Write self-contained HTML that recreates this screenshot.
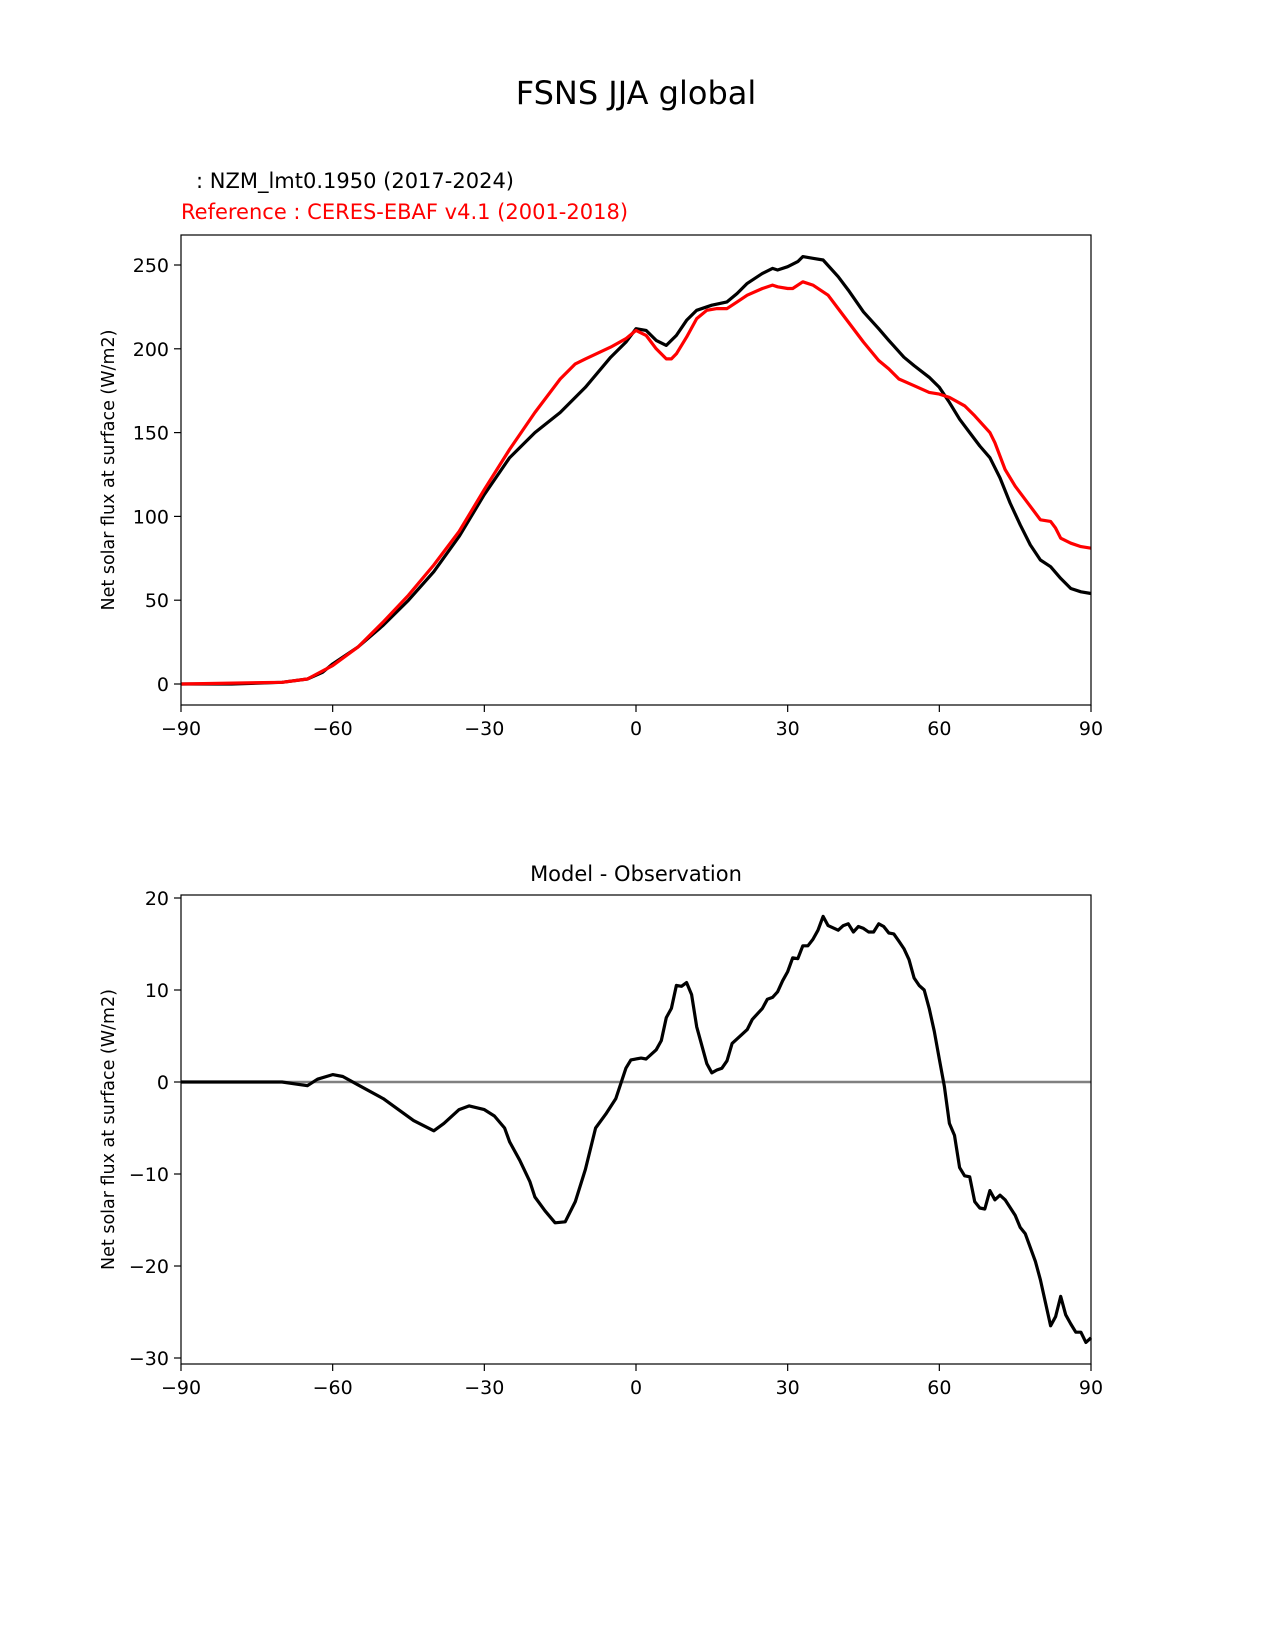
<!DOCTYPE html>
<html><head><meta charset="utf-8">
<style>
html,body{margin:0;padding:0;background:#fff;}
svg{display:block;font-family:"DejaVu Sans","Liberation Sans",sans-serif;}
</style></head>
<body>
<svg id="fig" width="1275" height="1650" viewBox="0 0 1275 1650" xmlns="http://www.w3.org/2000/svg">
<text x="636" y="104" font-size="32" text-anchor="middle">FSNS JJA global</text>
<text x="196" y="188" font-size="21">: NZM_lmt0.1950 (2017-2024)</text>
<text x="181" y="219" font-size="21" fill="#ff0000">Reference : CERES-EBAF v4.1 (2001-2018)</text>
<text x="636" y="881" font-size="21" text-anchor="middle">Model - Observation</text>
<g id="topPanel"></g>
<g id="botPanel"></g>
</svg>
<script>
const xTicks=[-90,-60,-30,0,30,60,90];
const topYTicks=[0,50,100,150,200,250];
const botYTicks=[-30,-20,-10,0,10,20];
const modelLat=[-90,-80,-70,-65,-62,-60,-55,-50,-45,-40,-35,-30,-25,-20,-15,-10,-5,-2,0,2,4,6,8,10,12,15,18,20,22,25,27,28,30,32,33,35,37,40,42,45,48,50,53,55,58,60,62,64,66,68,70,72,74,76,78,80,82,84,86,88,90];
const modelVals=[0,0,1,3,7,12,22,35,50,67,88,113,135,150,162,177,195,204,212,211,205,202,208,217,223,226,228,233,239,245,248,247,249,252,255,254,253,243,235,222,212,205,195,190,183,177,168,158,150,142,135,123,108,95,83,74,70,63,57,55,54];
const refLat=[-90,-70,-65,-60,-55,-50,-45,-40,-35,-30,-25,-20,-15,-12,-10,-5,-2,0,2,4,6,7,8,10,12,14,16,18,20,22,25,27,28,30,31,33,35,38,40,42,45,48,50,52,55,58,60,62,65,67,70,71,73,75,78,80,82,83,84,86,88,90];
const refVals=[0,1,3,11,22,37,53,71,91,116,140,162,182,191,194,201,206,211,208,200,194,194,197,207,218,223,224,224,228,232,236,238,237,236,236,240,238,232,224,216,204,193,188,182,178,174,173,171,166,160,150,144,128,118,106,98,97,93,87,84,82,81];
const diffLat=[-90,-70,-65,-63,-60,-58,-55,-50,-47,-44,-40,-38,-35,-33,-30,-28,-26,-25,-23,-21,-20,-18,-16,-14,-12,-10,-8,-6,-4,-2,-1,1,2,4,5,6,7,8,9,10,11,12,14,15,16,17,18,19,21,22,23,25,26,27,28,29,30,31,32,33,34,35,36,37,38,40,41,42,43,44,45,46,47,48,49,50,51,52,53,54,55,56,57,58,59,60,61,62,63,64,65,66,67,68,69,70,71,72,73,75,76,77,79,80,81,82,83,84,85,86,87,88,89,90];
const diffVals=[0,0,-0.4,0.3,0.8,0.6,-0.3,-1.8,-3,-4.2,-5.3,-4.5,-3,-2.6,-3,-3.7,-5,-6.5,-8.5,-10.8,-12.5,-14,-15.3,-15.2,-13,-9.5,-5,-3.5,-1.8,1.5,2.4,2.6,2.5,3.5,4.5,7,8,10.5,10.4,10.8,9.5,6,2,1,1.3,1.5,2.3,4.2,5.2,5.7,6.8,8,9,9.2,9.8,11,12,13.5,13.4,14.8,14.8,15.5,16.5,18,17,16.5,17,17.2,16.3,16.9,16.7,16.3,16.3,17.2,16.9,16.2,16.1,15.3,14.5,13.3,11.3,10.5,10,8,5.5,2.5,-0.5,-4.5,-5.8,-9.3,-10.2,-10.3,-13,-13.7,-13.8,-11.8,-12.8,-12.3,-12.8,-14.5,-15.8,-16.5,-19.5,-21.5,-24,-26.5,-25.5,-23.3,-25.3,-26.3,-27.2,-27.2,-28.3,-27.8];

const NS="http://www.w3.org/2000/svg";
function mk(parent,tag,attrs){const e=document.createElementNS(NS,tag);for(const k in attrs)e.setAttribute(k,attrs[k]);parent.appendChild(e);return e;}
function panel(g,box,ymin,ymax,yTicks,ylabel){
  const sx=v=>box.l+(v+90)/180*(box.r-box.l);
  const sy=v=>box.y0+(v-ymin)/(ymax-ymin)*(box.y1-box.y0);
  xTicks.forEach(t=>{
    const l=mk(g,'line',{x1:sx(t),x2:sx(t),y1:box.b,y2:box.b+7,stroke:'#000','stroke-width':1.2});
    
    
    const tx=mk(g,'text',{x:sx(t),y:box.b+30,'font-size':19,'text-anchor':'middle'});
    tx.textContent=(t<0?'\u2212'+(-t):t);
    
    
  });
  yTicks.forEach(t=>{
    const l=mk(g,'line',{x1:box.l-7,x2:box.l,y1:sy(t),y2:sy(t),stroke:'#000','stroke-width':1.2});
    
    
    const tx=mk(g,'text',{x:box.l-12,y:sy(t)+7,'font-size':19,'text-anchor':'end'});
    tx.textContent=(t<0?'\u2212'+(-t):t);
    
    
  });
  const yl=mk(g,'text',{x:0,y:0,'font-size':17.5,'text-anchor':'middle',transform:`translate(${box.l-67},${(box.t+box.b)/2}) rotate(-90)`});
  yl.textContent=ylabel;
  
  
  return {sx,sy};
}
function drawLine(g,sx,sy,xs,ys,color,name){
  const d=xs.map((x,i)=>(i?'L':'M')+sx(x).toFixed(1)+','+sy(ys[i]).toFixed(1)).join('');
  const p=mk(g,'path',{d,fill:'none',stroke:color,'stroke-width':3.2,'stroke-linejoin':'round'});
  
  
}
function frame(g,box){
  const r=mk(g,'rect',{x:box.l,y:box.t,width:box.r-box.l,height:box.b-box.t,fill:'none',stroke:'#000','stroke-width':1.2});
  
  
}
const topG=document.getElementById('topPanel');
const tb={l:181,r:1091,t:235,b:705,y0:684,y1:265};
const T=panel(topG,tb,0,250,topYTicks,'Net solar flux at surface (W/m2)');
drawLine(topG,T.sx,T.sy,modelLat,modelVals,'#000','model-line');
drawLine(topG,T.sx,T.sy,refLat,refVals,'#ff0000','reference-line');
frame(topG,tb);
const botG=document.getElementById('botPanel');
const bb={l:181,r:1091,t:895,b:1364,y0:1082,y1:898};
const B=panel(botG,bb,0,20,botYTicks,'Net solar flux at surface (W/m2)');
const z=mk(botG,'line',{x1:bb.l,x2:bb.r,y1:B.sy(0),y2:B.sy(0),stroke:'#808080','stroke-width':2.5});


drawLine(botG,B.sx,B.sy,diffLat,diffVals,'#000','difference-line');
frame(botG,bb);
</script>
</body></html>
